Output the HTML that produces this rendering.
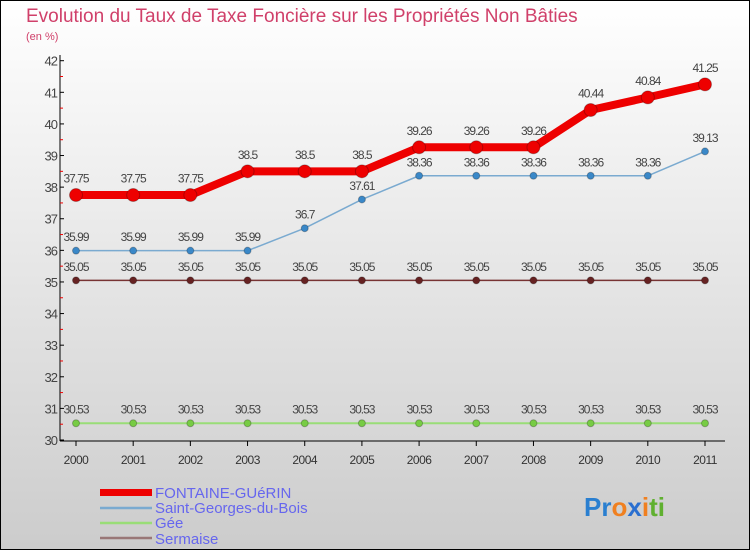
<!DOCTYPE html>
<html><head><meta charset="utf-8"><style>
body{margin:0;width:750px;height:550px;overflow:hidden}
svg{display:block;font-family:"Liberation Sans",sans-serif}
</style></head><body>
<svg id="c" width="750" height="550" xmlns="http://www.w3.org/2000/svg">
<defs><linearGradient id="bg" x1="0" y1="0" x2="0" y2="1"><stop offset="0" stop-color="#ffffff"/><stop offset="1" stop-color="#cccccc"/></linearGradient></defs>
<rect x="0.5" y="0.5" width="749" height="549" fill="url(#bg)" stroke="#000"/>
<text x="26" y="22" font-size="19" fill="#d0406a">Evolution du Taux de Taxe Foncière sur les Propriétés Non Bâties</text>
<text x="26" y="40" font-size="11" fill="#d0406a">(en %)</text>
<g id="axes"></g><g id="series"></g>
<g>
<rect x="100" y="489" width="52" height="7" fill="#ee0000"/>
<text x="155" y="498" font-size="15" fill="#6666ee">FONTAINE-GUéRIN</text>
<line x1="100" y1="508" x2="152" y2="508" stroke="#7aaad0" stroke-width="2.5"/>
<text x="155" y="513" font-size="15" fill="#6666ee">Saint-Georges-du-Bois</text>
<line x1="100" y1="523" x2="152" y2="523" stroke="#99dd77" stroke-width="2.5"/>
<text x="155" y="528" font-size="15" fill="#6666ee">Gée</text>
<line x1="100" y1="538" x2="152" y2="538" stroke="#997777" stroke-width="2.5"/>
<text x="155" y="544" font-size="15" fill="#6666ee">Sermaise</text>
</g>
<g font-size="26" font-weight="bold">
<text x="584" y="516"><tspan fill="#2a7fd0">Pr</tspan><tspan fill="#f08020">o</tspan><tspan fill="#2a6fd0">x</tspan><tspan fill="#f08020">i</tspan><tspan fill="#60b030">ti</tspan></text>
</g>
</svg>
<script>
const years=[2000,2001,2002,2003,2004,2005,2006,2007,2008,2009,2010,2011];
const fontaine=[37.75,37.75,37.75,38.5,38.5,38.5,39.26,39.26,39.26,40.44,40.84,41.25];
const saintGeorges=[35.99,35.99,35.99,35.99,36.7,37.61,38.36,38.36,38.36,38.36,38.36,39.13];
const gee=[30.53,30.53,30.53,30.53,30.53,30.53,30.53,30.53,30.53,30.53,30.53,30.53];
const sermaise=[35.05,35.05,35.05,35.05,35.05,35.05,35.05,35.05,35.05,35.05,35.05,35.05];
const yTicks=[30,31,32,33,34,35,36,37,38,39,40,41,42];
const NS="http://www.w3.org/2000/svg";
const x=i=>76+i*(705-76)/(years.length-1);
const y=v=>440-(v-30)*(440-60.7)/12;
function mk(tag,attrs,parent){const e=document.createElementNS(NS,tag);for(const k in attrs)e.setAttribute(k,attrs[k]);parent.appendChild(e);return e;}
const ax=document.getElementById('axes');
let a=mk('line',{x1:60,y1:55,x2:60,y2:441,stroke:'#000'},ax);


a=mk('line',{x1:60,y1:441,x2:725,y2:441,stroke:'#000'},ax);


yTicks.forEach(t=>{
 mk('line',{x1:60,y1:y(t),x2:64,y2:y(t),stroke:'#000'},ax);
 if(t<42)mk('line',{x1:60,y1:y(t+0.5),x2:63,y2:y(t+0.5),stroke:'#e00'},ax);
 const l=mk('text',{x:57,y:y(t)+5,'text-anchor':'end','font-size':13,fill:'#444','letter-spacing':'-1'},ax);
 l.textContent=t;
 
 
});
years.forEach((yr,i)=>{
 mk('line',{x1:x(i),y1:441,x2:x(i),y2:446,stroke:'#000'},ax);
 const l=mk('text',{x:x(i),y:464,'text-anchor':'middle','font-size':12,fill:'#333','letter-spacing':'-0.5'},ax);
 l.textContent=yr;
 
 
});
const sg=document.getElementById('series');
function draw(data,color,w,r,dot,name){
 const g=mk('g',{},sg);
 
 
 const p=mk('polyline',{points:data.map((v,i)=>x(i)+','+y(v)).join(' '),fill:'none',stroke:color,'stroke-width':w,'stroke-linejoin':'round'},g);
 
 
 data.forEach((v,i)=>{
  const c=mk('circle',{cx:x(i),cy:y(v),r:r,fill:dot,stroke:'#00000040','stroke-width':1},g);
  
  
  const t=mk('text',{x:x(i),y:y(v)-(r+6),'text-anchor':'middle','font-size':12,fill:'#444','letter-spacing':'-1'},g);
  t.textContent=v;
  
  
 });
}
draw(gee,'#99dd77',2,3.5,'#77cc44','gee');
draw(sermaise,'#773333',1.5,3.5,'#662222','sermaise');
draw(saintGeorges,'#7aaad0',1.5,3.5,'#3a88c8','saint-georges');
draw(fontaine,'#ee0000',8,6.5,'#ee0000','fontaine');
</script>
</body></html>
